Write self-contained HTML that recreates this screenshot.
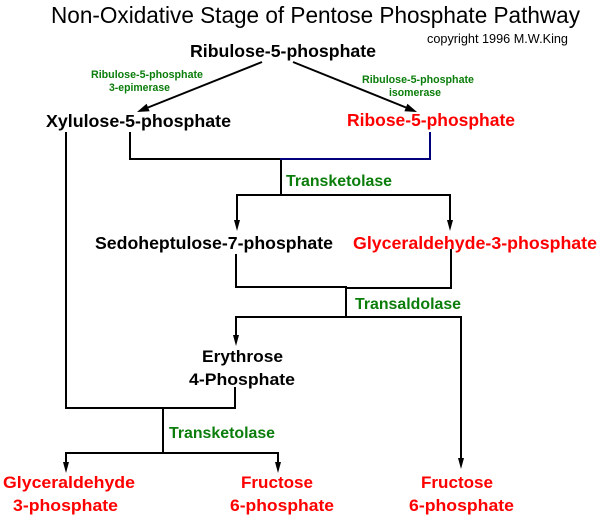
<!DOCTYPE html>
<html>
<head>
<meta charset="utf-8">
<style>
  html, body { margin: 0; padding: 0; background: #ffffff; }
  body { width: 600px; height: 519px; overflow: hidden; }
  svg { display: block; }
  text { font-family: "Liberation Sans", Arial, sans-serif; }
  .b { font-weight: bold; }
  .k { fill: #000000; }
  .r { fill: #ff0000; }
  .g { fill: #0b7d0b; }
</style>
</head>
<body>
<svg width="600" height="519" viewBox="0 0 600 519" xmlns="http://www.w3.org/2000/svg">
  <rect x="0" y="0" width="600" height="519" fill="#ffffff"/>

  <!-- Title -->
  <text x="51" y="23" font-size="23" class="k" textLength="529" lengthAdjust="spacingAndGlyphs">Non-Oxidative Stage of Pentose Phosphate Pathway</text>
  <text x="427" y="43" font-size="12.5" class="k" textLength="141" lengthAdjust="spacingAndGlyphs">copyright 1996 M.W.King</text>

  <!-- Top compound -->
  <text x="190" y="57" font-size="17.5" class="b k" textLength="186" lengthAdjust="spacingAndGlyphs">Ribulose-5-phosphate</text>

  <!-- Enzyme labels top -->
  <text x="91" y="78" font-size="11" class="b g" textLength="112" lengthAdjust="spacingAndGlyphs">Ribulose-5-phosphate</text>
  <text x="109" y="91" font-size="11" class="b g" textLength="61" lengthAdjust="spacingAndGlyphs">3-epimerase</text>
  <text x="362" y="83" font-size="11" class="b g" textLength="112" lengthAdjust="spacingAndGlyphs">Ribulose-5-phosphate</text>
  <text x="389" y="96" font-size="11" class="b g" textLength="52" lengthAdjust="spacingAndGlyphs">isomerase</text>

  <!-- Diagonal arrows -->
  <g stroke="#000" stroke-width="2" fill="none">
    <line x1="262" y1="62" x2="148" y2="107.5"/>
    <line x1="293" y1="62" x2="406" y2="107.5"/>
  </g>
  <polygon points="137,112 149.6,111.2 146.6,103.8" fill="#000"/>
  <polygon points="417,112 404.4,111.2 407.4,103.8" fill="#000"/>

  <!-- Pentose row -->
  <text x="46" y="127" font-size="17.5" class="b k" textLength="185" lengthAdjust="spacingAndGlyphs">Xylulose-5-phosphate</text>
  <text x="347" y="126" font-size="17.5" class="b r" textLength="168" lengthAdjust="spacingAndGlyphs">Ribose-5-phosphate</text>

  <!-- Connectors -->
  <g stroke="#000" stroke-width="2" fill="none" stroke-linecap="square">
    <!-- long left line -->
    <polyline points="66,133 66,408 235,408 235,388"/>
    <!-- xylulose to merge -->
    <polyline points="130,133 130,159 281,159"/>
    <!-- transketolase 1 -->
    <line x1="281" y1="159" x2="281" y2="195"/>
    <polyline points="237,220 237,195 450,195 450,220"/>
    <!-- sedo / gly merge -->
    <polyline points="236,255 236,287 346,287"/>
    <polyline points="346,288 451,288 451,250"/>
    <line x1="346" y1="287" x2="346" y2="317"/>
    <polyline points="236,335 236,317 461,317 461,458"/>
    <!-- transketolase 2 -->
    <line x1="163" y1="408" x2="163" y2="453"/>
    <polyline points="66,462 66,453 278,453 278,462"/>
  </g>
  <g stroke="#00007a" stroke-width="2" fill="none" stroke-linecap="square">
    <polyline points="281,159 430,159 430,133"/>
  </g>

  <!-- Down arrowheads -->
  <g fill="#000">
    <polygon points="234,220 240,220 237,231"/>
    <polygon points="447,220 453,220 450,231"/>
    <polygon points="233,335 239,335 236,346"/>
    <polygon points="458,458 464,458 461,469"/>
    <polygon points="63,462 69,462 66,473"/>
    <polygon points="275,462 281,462 278,473"/>
  </g>

  <!-- Enzyme labels -->
  <text x="286" y="186" font-size="16" class="b g" textLength="106" lengthAdjust="spacingAndGlyphs">Transketolase</text>
  <text x="355" y="309" font-size="16" class="b g" textLength="106" lengthAdjust="spacingAndGlyphs">Transaldolase</text>
  <text x="169" y="438" font-size="16" class="b g" textLength="106" lengthAdjust="spacingAndGlyphs">Transketolase</text>

  <!-- Middle compounds -->
  <text x="95" y="249" font-size="17.5" class="b k" textLength="238" lengthAdjust="spacingAndGlyphs">Sedoheptulose-7-phosphate</text>
  <text x="353" y="249" font-size="17.5" class="b r" textLength="244" lengthAdjust="spacingAndGlyphs">Glyceraldehyde-3-phosphate</text>

  <text x="202" y="362" font-size="17" class="b k" textLength="81" lengthAdjust="spacingAndGlyphs">Erythrose</text>
  <text x="189" y="385" font-size="17" class="b k" textLength="106" lengthAdjust="spacingAndGlyphs">4-Phosphate</text>

  <!-- Bottom products -->
  <text x="3" y="488" font-size="16.5" class="b r" textLength="132" lengthAdjust="spacingAndGlyphs">Glyceraldehyde</text>
  <text x="13" y="511" font-size="16.5" class="b r" textLength="105" lengthAdjust="spacingAndGlyphs">3-phosphate</text>

  <text x="241" y="488" font-size="16.5" class="b r" textLength="72" lengthAdjust="spacingAndGlyphs">Fructose</text>
  <text x="230" y="511" font-size="16.5" class="b r" textLength="104" lengthAdjust="spacingAndGlyphs">6-phosphate</text>

  <text x="421" y="488" font-size="16.5" class="b r" textLength="72" lengthAdjust="spacingAndGlyphs">Fructose</text>
  <text x="409" y="511" font-size="16.5" class="b r" textLength="105" lengthAdjust="spacingAndGlyphs">6-phosphate</text>
</svg>
</body>
</html>
